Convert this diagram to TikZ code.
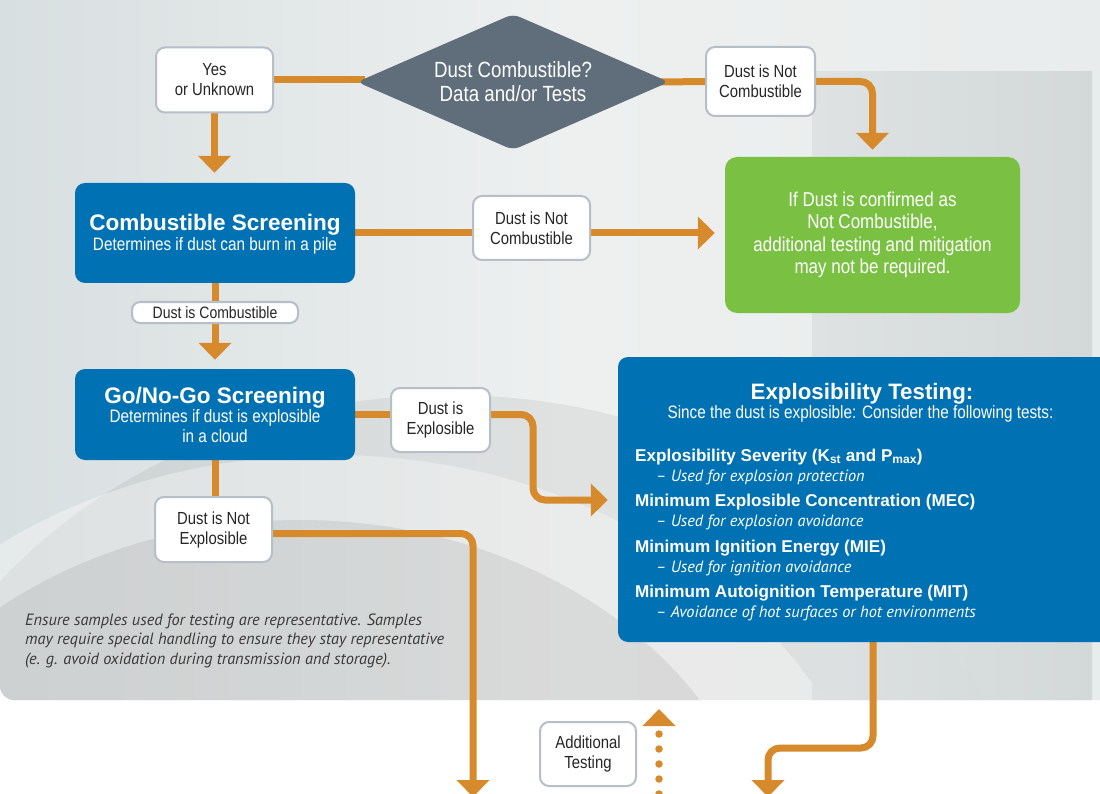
\documentclass[tikz,border=0pt]{standalone}
\usepackage{fontspec}
\setmainfont{Liberation Sans}
\newfontfamily\cond[FakeStretch=0.85]{Liberation Sans}
\newfontfamily\hum{PT Sans}
\usetikzlibrary{shapes.geometric,arrows.meta,backgrounds}
\definecolor{orng}{HTML}{D68A2B}
\definecolor{blu}{HTML}{0071B2}
\definecolor{grn}{HTML}{7AC143}
\definecolor{slate}{HTML}{5F6E7A}
\definecolor{lblborder}{HTML}{B6BFC7}
\definecolor{txtdark}{HTML}{262626}
\definecolor{notegray}{HTML}{3A3A3A}
\definecolor{bgL}{HTML}{D8DFE0}
\definecolor{bgM}{HTML}{EEF0F0}
\definecolor{bgR}{HTML}{E9ECEC}
\definecolor{rectL}{HTML}{DDE1E1}
\definecolor{rectR}{HTML}{D2D7D7}
\pgfdeclarelayer{panel}
\pgfsetlayers{panel,background,main}
\tikzset{
  orangeline/.style={draw=orng, line width=7pt, rounded corners=12pt},
  arr/.style={orangeline, -{Triangle[length=17pt,width=32pt]}},
  dotarrow/.style={draw=orng, line width=7.5pt, line cap=round, dash pattern=on 0pt off 15pt, -{Triangle[length=17pt,width=32pt]}},
  lbl/.style={draw=lblborder, line width=2pt, fill=white, rounded corners=9pt, inner sep=0pt, align=center, text=txtdark, font=\cond\fontsize{17.5}{20}\selectfont},
  bluebox/.style={fill=blu, rounded corners=10pt, inner sep=0pt},
  wtitle/.style={anchor=base, text=white, inner sep=0pt, font=\bfseries\fontsize{22.5}{24}\selectfont},
  wsubt/.style={anchor=base, text=white, inner sep=0pt, font=\cond\fontsize{18}{20}\selectfont},
  item/.style={anchor=base west, text=white, inner sep=0pt, font=\bfseries\fontsize{17.1}{19}\selectfont},
  sub/.style={anchor=base west, text=white, inner sep=0pt, font=\hum\itshape\fontsize{16.3}{18}\selectfont},
  note/.style={anchor=base west, text=notegray, inner sep=0pt, font=\hum\itshape\fontsize{16.3}{18}\selectfont}
}
\begin{document}
\begin{tikzpicture}[x=1pt,y=-1pt]
\useasboundingbox (0,0) rectangle (1100,794);
\begin{pgfonlayer}{panel}
  \fill[white] (0,0) rectangle (1100,794);
  \shade[left color=bgL, right color=bgR, middle color=bgM, rounded corners=14pt] (0,-30) rectangle (1130,700);
  \begin{scope}
    \clip[rounded corners=14pt] (0,-30) rectangle (1130,700);
    \fill[black, opacity=0.06] (450,900) ellipse [x radius=580, y radius=505];
    \fill[white, opacity=0.35] (330,920) ellipse [x radius=560, y radius=465];
    \fill[black, opacity=0.07] (300,900) ellipse [x radius=470, y radius=380];
    \shade[left color=rectL, right color=rectR, opacity=0.92] (812,72) rectangle (1092,700);
  \end{scope}
\end{pgfonlayer}

% nodes
\node[diamond, shape aspect=2.3, fill=slate, minimum width=312pt, minimum height=136pt, rounded corners=7pt, inner sep=0pt, text=white, align=center, font=\cond\fontsize{22}{24}\selectfont] (dia) at (513,82) {Dust Combustible?\\Data and/or Tests};
\node[lbl, minimum width=117pt, minimum height=65pt] (yes) at (214.5,80) {Yes\\or Unknown};
\node[lbl, minimum width=109pt, minimum height=69pt] (notc1) at (760.5,81.5) {Dust is Not\\Combustible};

\node[bluebox, minimum width=280pt, minimum height=100pt] (comb) at (215,233) {};
\node[wtitle] (combt) at (215,230.5) {Combustible Screening};
\node[wsubt] (combs) at (215,250.5) {Determines if dust can burn in a pile};

\node[lbl, minimum width=117pt, minimum height=64pt] (notc2) at (531.5,228) {Dust is Not\\Combustible};
\node[fill=grn, rounded corners=12pt, minimum width=295pt, minimum height=156pt, inner sep=0pt, text=white, align=center, font=\cond\fontsize{20}{22.5}\selectfont] (green) at (872.5,235) {If Dust is confirmed as\\Not Combustible,\\additional testing and mitigation\\may not be required.};
\node[lbl, rounded corners=8pt, minimum width=166pt, minimum height=21pt, font=\cond\fontsize{16.5}{18}\selectfont] (pill) at (215,312.5) {Dust is Combustible};

\node[bluebox, minimum width=280pt, minimum height=91pt] (go) at (215,414.5) {};
\node[wtitle] (got) at (215,403.5) {Go/No-Go Screening};
\node[wsubt] (gos1) at (215,422.5) {Determines if dust is explosible};
\node[wsubt] (gos2) at (215,442.5) {in a cloud};

\node[lbl, minimum width=99pt, minimum height=64pt] (explbl) at (440.5,420) {Dust is\\Explosible};
\node[lbl, minimum width=117pt, minimum height=65pt] (notexpl) at (213.5,529.5) {Dust is Not\\Explosible};
\node[bluebox, minimum width=494pt, minimum height=285pt] (expl) at (865,499.5) {};
\node[lbl, minimum width=96pt, minimum height=64pt] (addt) at (588,754) {Additional\\Testing};

% explosibility texts
\node[anchor=base, text=white, inner sep=0pt, font=\bfseries\fontsize{22.3}{24}\selectfont] (et) at (862,399) {Explosibility Testing:};
\node[anchor=base, text=white, inner sep=0pt, font=\cond\fontsize{18}{20}\selectfont] (es) at (860.5,418.5) {Since the dust is explosible: Consider the following tests:};
\node[item] (i1) at (635,461) {Explosibility Severity (K\textsubscript{st} and P\textsubscript{max})};
\node[sub] (s1) at (656,481) {– Used for explosion protection};
\node[item] (i2) at (635,506) {Minimum Explosible Concentration (MEC)};
\node[sub] (s2) at (656,526) {– Used for explosion avoidance};
\node[item] (i3) at (635,552) {Minimum Ignition Energy (MIE)};
\node[sub] (s3) at (656,572) {– Used for ignition avoidance};
\node[item] (i4) at (635,597) {Minimum Autoignition Temperature (MIT)};
\node[sub] (s4) at (656,617) {– Avoidance of hot surfaces or hot environments};

% note
\node[note] (n1) at (25,625) {Ensure samples used for testing are representative. Samples};
\node[note] (n2) at (25,644.5) {may require special handling to ensure they stay representative};
\node[note] (n3) at (25,664) {(e. g. avoid oxidation during transmission and storage).};

\coordinate (k1) at (533,500);
\coordinate (b1) at (473,797);
\coordinate (k2) at (820,748);
\coordinate (b2) at (768,797);
\coordinate (d1) at (659,794);
\coordinate (d2) at (659,709);

\begin{pgfonlayer}{background}
  \draw[orangeline] (yes.east) -- ([xshift=8pt]yes.east -| dia.west);
  \draw[orangeline] ([xshift=-8pt]dia.east) -- (notc1.west);
  \draw[arr] (notc1.east) -| ([yshift=7pt]green.north);
  \draw[arr] (yes.south) -- ([yshift=10pt]yes.south |- comb.north);
  \draw[arr] (comb.east) -- ([xshift=-10pt]comb.east -| green.west);
  \draw[arr] (comb.south) -- ([yshift=9pt]comb.south |- go.north);
  \draw[orangeline] (go.east) -- (go.east -| explbl.west);
  \draw[arr] (go.east -| explbl.east) -| (k1) -- ([xshift=-10pt]k1 -| expl.west);
  \draw[orangeline] (go.south) -- (go.south |- notexpl.north);
  \draw[arr] ([yshift=-4pt]notexpl.east) -| (b1);
  \draw[arr] ([xshift=8pt]expl.south) |- (k2) -| (b2);
  \draw[dotarrow] (d1) -- (d2);
\end{pgfonlayer}
\end{tikzpicture}
\end{document}
